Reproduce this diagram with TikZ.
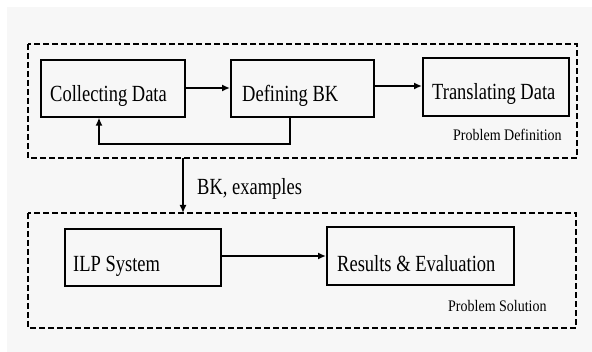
\documentclass[tikz,border=0pt]{standalone}
\usepackage{fontspec}
\setmainfont{Liberation Serif}
\usetikzlibrary{arrows.meta}
\begin{document}
\begin{tikzpicture}[x=1pt,y=-1pt,
  procbox/.style={draw=black,line width=1.6pt,minimum width=#1,minimum height=57pt,inner sep=0pt,anchor=north west},
  lbl/.style={font=\fontsize{18.5}{20}\selectfont,anchor=west,inner sep=0pt},
  smalllbl/.style={font=\fontsize{14}{15}\selectfont,anchor=west,inner sep=0pt},
  dashbox/.style={draw=black,line width=1.4pt,dash pattern=on 6pt off 3pt},
  conn/.style={line width=1.6pt,-{Latex[length=8pt,width=7pt]}}]
\useasboundingbox (0,0) rectangle (592,352);
\fill[white] (0,0) rectangle (592,352);
\fill[black!3] (7,7) rectangle (592,352);
% group boxes
\draw[dashbox] (28,44) rectangle (577,158);
\draw[dashbox] (28,213) rectangle (576,328);
\coordinate (topbot) at (183,158);
\coordinate (bottop) at (183,213);
% process boxes
\node[procbox=144pt] (cd) at (40,59) {};
\node[procbox=143pt] (bk) at (230,59) {};
\node[procbox=146pt,minimum height=58pt] (td) at (422,57) {};
\node[procbox=156pt] (ilp) at (64,228) {};
\node[procbox=187pt,minimum height=58pt] (re) at (326,226) {};
% texts
\node[lbl] (tcd) at (50,96) {\scalebox{1}[1.25]{Collecting Data}};
\node[lbl] (tbk) at (242,96) {\scalebox{1}[1.25]{Defining BK}};
\node[lbl] (ttd) at (432,94) {\scalebox{1}[1.25]{Translating Data}};
\node[lbl] (tilp) at (73,266) {\scalebox{1}[1.25]{ILP System}};
\node[lbl] (tre) at (337,264) {\scalebox{1}[1.25]{Results \& Evaluation}};
\node[lbl] (tex) at (197,189) {\scalebox{1}[1.25]{BK, examples}};
\node[smalllbl] (pd) at (453,135) {\scalebox{1}[1.15]{Problem Definition}};
\node[smalllbl] (ps) at (448,306) {\scalebox{1}[1.15]{Problem Solution}};
% connectors
\draw[conn] (cd.east |- 0,88) -- (bk.west |- 0,88);
\draw[conn] (bk.east |- 0,86) -- (td.west |- 0,86);
\draw[conn] (bk.south -| 290,0) -- (290,144) -- (99,144) -- (cd.south -| 99,0);
\draw[conn] (topbot) -- (bottop);
\draw[conn] (ilp.east |- 0,256) -- (re.west |- 0,256);
\end{tikzpicture}
\end{document}
